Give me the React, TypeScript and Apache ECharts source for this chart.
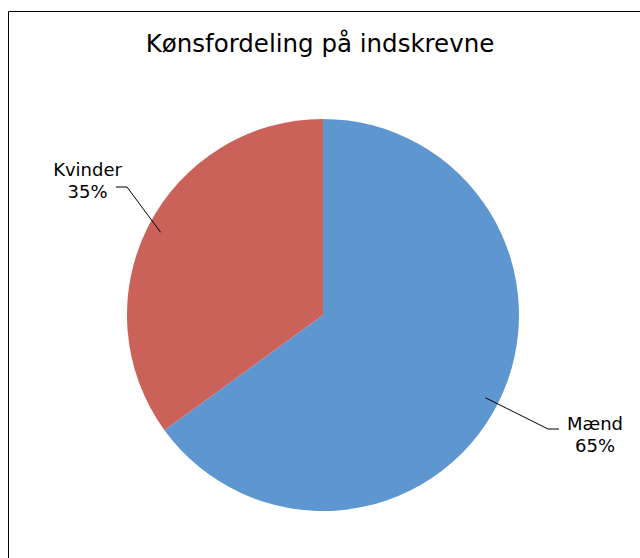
import React, { useEffect, useRef } from "react";
import * as echarts from "echarts";

const titleText = "Kønsfordeling på indskrevne";
const categories = ["Mænd", "Kvinder"];
const values = [65, 35];
const colors = ["#5E97D0", "#CB625A"];

const CENTER = [323, 315];
const RADIUS = 196;
// label anchor (centre) positions and leader line bend offsets, per slice
const labelPos = [
  { x: 595, y: 434, bend: [-47, -5], end: [-36, -5] },
  { x: 87.5, y: 180, bend: [39.5, 7], end: [28.5, 7] },
];

export default function App() {
  const ref = useRef<HTMLDivElement>(null);
  useEffect(() => {
    document.body.style.margin = "0";
    const total = values.reduce((a, b) => a + b, 0);
    const midAngles: number[] = [];
    let cum = 0;
    values.forEach((v) => {
      midAngles.push(((90 - (360 * (cum + v / 2)) / total) * Math.PI) / 180);
      cum += v;
    });
    const leaderLines = values.map((_, i) => {
      const lp = labelPos[i];
      const a = midAngles[i];
      return {
        type: "polyline",
        z: 100,
        silent: true,
        shape: {
          points: [
            [CENTER[0] + Math.cos(a) * RADIUS * 0.93, CENTER[1] - Math.sin(a) * RADIUS * 0.93],
            [lp.x + lp.bend[0], lp.y + lp.bend[1]],
            [lp.x + lp.end[0], lp.y + lp.end[1]],
          ],
        },
        style: { fill: "none", stroke: "#000", lineWidth: 1 },
      };
    });
    const chart = echarts.init(ref.current!, null, { renderer: "svg" });
    chart.setOption({
      animation: false,
      backgroundColor: "#fff",
      title: {
        text: titleText,
        left: "center",
        top: 26,
        textStyle: {
          fontFamily: "DejaVu Sans",
          fontSize: 24.5,
          fontWeight: "normal",
          color: "#000",
        },
      },
      graphic: [
        {
          type: "rect",
          shape: { x: 8.5, y: 11.5, width: 700, height: 700 },
          style: { fill: "none", stroke: "#000", lineWidth: 1 },
          silent: true,
        },
        ...leaderLines,
      ],
      series: [
        {
          type: "pie",
          center: CENTER,
          radius: RADIUS,
          startAngle: 90,
          clockwise: true,
          data: categories.map((c, i) => ({
            name: c,
            value: values[i],
            itemStyle: { color: colors[i] },
          })),
          label: {
            show: true,
            formatter: "{b}\n{d}%",
            fontFamily: "DejaVu Sans",
            fontSize: 18,
            lineHeight: 22,
            color: "#000",
            align: "center",
          },
          labelLine: { show: false },
          labelLayout: (params: any) => {
            const lp = labelPos[params.dataIndex];
            return {
              x: lp.x,
              y: lp.y,
              align: "center",
              verticalAlign: "middle",
            };
          },
        },
      ],
    });
    return () => chart.dispose();
  }, []);
  return <div ref={ref} style={{ width: 640, height: 558 }} />;
}
